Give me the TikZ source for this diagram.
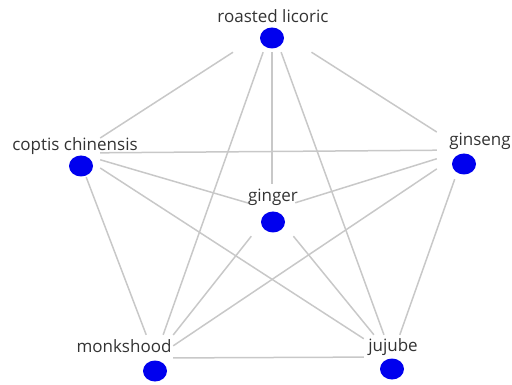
\documentclass[tikz,border=0pt]{standalone}
\usepackage{fontspec}
\setmainfont{Open Sans}
\usetikzlibrary{shapes.geometric}
\definecolor{edgegray}{HTML}{C8C8C8}
\definecolor{dotblue}{HTML}{0000EE}
\definecolor{txt}{HTML}{333333}
\begin{document}
\begin{tikzpicture}[x=1pt,y=-1pt,
  hub/.style={draw=none,inner sep=0pt,rectangle},
  dot/.style={ellipse,fill=dotblue,draw=none,minimum width=24pt,minimum height=21pt,inner sep=0pt},
  lbl/.style={text=txt,inner sep=0pt,font=\fontsize{17}{19}\selectfont},
  edge/.style={draw=edgegray,line width=1.5pt}]
\useasboundingbox (0,0) rectangle (512,385);
% invisible hubs used as connector ends
\node[hub,minimum width=112pt,minimum height=50pt] (rl) at (272,27) {};
\node[hub,minimum width=46pt,minimum height=48pt] (cop) at (77,153) {};
\node[hub,minimum width=56pt,minimum height=58pt] (gis) at (465,150) {};
\node[hub,minimum width=46pt,minimum height=52pt] (gin) at (272,210) {};
\node[hub,minimum width=36pt,minimum height=46pt] (mon) at (155,358) {};
\node[hub,minimum width=56pt,minimum height=44pt] (juj) at (392,357) {};
% connectors
\draw[edge] (rl) -- (cop);
\draw[edge] (rl) -- (gis);
\draw[edge] (rl) -- (gin);
\draw[edge] (rl) -- (mon);
\draw[edge] (rl) -- (juj);
\draw[edge] (cop) -- (gis);
\draw[edge] (cop) -- (gin);
\draw[edge] (cop) -- (juj);
\draw[edge] (cop) -- (mon);
\draw[edge] (gis) -- (gin);
\draw[edge] (gis) -- (mon);
\draw[edge] (gis) -- (juj);
\draw[edge] (gin) -- (mon);
\draw[edge] (gin) -- (juj);
\draw[edge] (mon) -- (juj);
% dots
\node[dot] (rld) at (272,38) {};
\node[dot] (copd) at (81,166) {};
\node[dot] (gisd) at (464,164) {};
\node[dot] (gind) at (273,222) {};
\node[dot] (mond) at (155,371) {};
\node[dot] (jujd) at (392,369) {};
% labels
\node[lbl] (rll) at (273,16) {roasted licoric};
\node[lbl] (copl) at (75,146) {coptis chinensis};
\node[lbl] (gisl) at (480,141) {ginseng};
\node[lbl] (ginl) at (273,197) {ginger};
\node[lbl] (monl) at (124,346) {monkshood};
\node[lbl] (jujl) at (393,347) {jujube};
\end{tikzpicture}
\end{document}
